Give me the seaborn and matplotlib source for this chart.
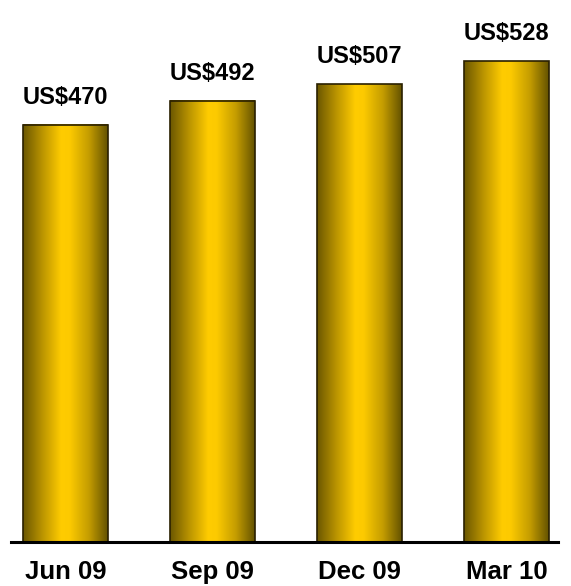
import numpy as np
import pandas as pd
import matplotlib
matplotlib.use("Agg")
import matplotlib.pyplot as plt
from matplotlib.colors import LinearSegmentedColormap
import seaborn as sns

# Quarterly values (US$)
quarters = ["Jun 09", "Sep 09", "Dec 09", "Mar 10"]
values = [470, 492, 507, 528]
value_labels = ["US$470", "US$492", "US$507", "US$528"]

df = pd.DataFrame({"quarter": quarters, "value": values})

sns.set_theme(style="white")
plt.rcParams["font.family"] = ["Liberation Sans", "DejaVu Sans"]

fig = plt.figure(figsize=(5.71, 5.86), dpi=100)
ax = fig.add_axes([11 / 571, 44 / 586, 547 / 571, 542 / 586])

sns.barplot(data=df, x="quarter", y="value", ax=ax, width=0.578,
            color="#ffcc00", edgecolor="#2a2000", linewidth=1.2)

y_lo, y_hi = 88, 584
ax.set_xlim(-0.371, 3.35)
ax.set_ylim(y_lo, y_hi)

# Horizontal metallic gold gradient inside each bar
gold = LinearSegmentedColormap.from_list(
    "gold",
    [(0.0, "#6b5700"), (0.22, "#b89200"), (0.45, "#ffcc00"),
     (0.55, "#fdca00"), (0.78, "#c39c00"), (1.0, "#645200")])
grad = np.linspace(0, 1, 256).reshape(1, -1)
for patch in ax.patches:
    x0 = patch.get_x()
    w = patch.get_width()
    h = patch.get_height()
    ax.imshow(grad, cmap=gold, aspect="auto",
              extent=(x0, x0 + w, y_lo, h), zorder=patch.get_zorder() - 0.1,
              interpolation="bilinear")
    patch.set_facecolor("none")
ax.set_xlim(-0.371, 3.35)
ax.set_ylim(y_lo, y_hi)

# Value labels above bars
for i, (v, lab) in enumerate(zip(values, value_labels)):
    ax.annotate(lab, xy=(i, v), xytext=(0, 21), textcoords="offset pixels",
                ha="center", va="baseline", fontsize=17,
                fontweight="bold", color="black")

for s in ["top", "left", "right"]:
    ax.spines[s].set_visible(False)
ax.spines["bottom"].set_color("black")
ax.spines["bottom"].set_linewidth(2.2)
ax.spines["bottom"].set_zorder(5)

ax.set_xlabel("")
ax.set_ylabel("")
ax.set_yticks([])
ax.set_xticks(range(len(quarters)))
ax.set_xticklabels(quarters)
ax.tick_params(axis="x", length=0, pad=13)
for t in ax.get_xticklabels():
    t.set_fontsize(18.5)
    t.set_fontweight("bold")
    t.set_color("black")

fig.savefig("out.png", dpi=100)
